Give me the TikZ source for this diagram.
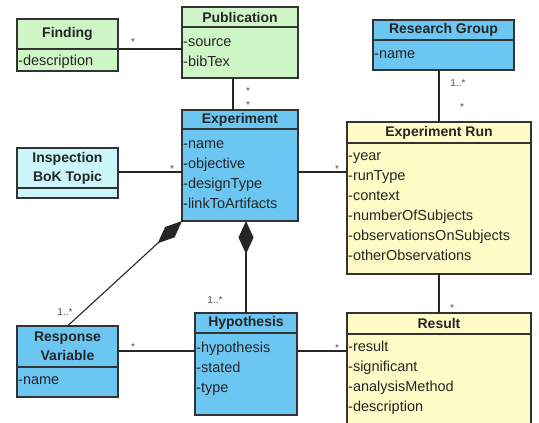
\documentclass[tikz,border=0pt]{standalone}
\usepackage{fontspec}
\setmainfont{Liberation Sans}
\usetikzlibrary{positioning, arrows.meta}

\definecolor{pubgreen}{RGB}{206,245,198}
\definecolor{classblue}{RGB}{108,198,242}
\definecolor{topiccyan}{RGB}{202,245,250}
\definecolor{runyellow}{RGB}{255,251,198}

\begin{document}
\begin{tikzpicture}[x=1pt, y=-1pt,
    head/.style={draw=black!80, line width=1.2pt, outer sep=0pt,
      anchor=north west, inner sep=0pt, align=center, text=black!85,
      font=\fontsize{14}{19}\selectfont\bfseries},
    body/.style={draw=black!80, line width=1.2pt, outer sep=0pt,
      inner sep=0pt},
    attr/.style={anchor=north west, align=left, inner xsep=1pt,
      inner ysep=5pt, text=black!85,
      font=\fontsize{14.5}{20}\selectfont},
    link/.style={line width=1.1pt, black!85},
    mult/.style={font=\fontsize{10}{12}\selectfont, inner sep=0pt,
      text=black!70}]

    \useasboundingbox (0,0) rectangle (539,423);
    \clip (0,0) rectangle (539,423);

    % Finding
    \node[head, fill=pubgreen, minimum width=101pt,
    minimum height=30pt] (findH) at (17,19) {Finding};
    \node[body, fill=pubgreen, minimum width=101pt,
    minimum height=22pt, below=0pt of findH] (findB) {};
    \node[attr, inner ysep=2.5pt] (findA) at (findB.north west)
    {\strut-description};

    % Publication
    \node[head, fill=pubgreen, minimum width=116pt,
    minimum height=20pt] (pubH) at (182,7) {Publication};
    \node[body, fill=pubgreen, minimum width=116pt,
    minimum height=51pt, below=0pt of pubH] (pubB) {};
    \node[attr] (pubA) at (pubB.north west) {\strut-source\\-bibTex};

    % Research Group
    \node[head, fill=classblue, minimum width=141pt,
    minimum height=20pt] (rgH) at (373,20) {Research Group};
    \node[body, fill=classblue, minimum width=141pt,
    minimum height=30pt, below=0pt of rgH] (rgB) {};
    \node[attr, inner ysep=4pt] (rgA) at (rgB.north west) {\strut-name};

    % Inspection BoK Topic
    \node[head, fill=topiccyan, minimum width=101pt,
    minimum height=40pt] (inspH) at (17,148) {Inspection\\BoK Topic};
    \node[body, fill=topiccyan, minimum width=101pt,
    minimum height=10pt, below=0pt of inspH] (inspB) {};

    % Experiment
    \node[head, fill=classblue, minimum width=116pt,
    minimum height=19pt] (expH) at (182,110) {Experiment};
    \node[body, fill=classblue, minimum width=116pt,
    minimum height=92pt, below=0pt of expH] (expB) {};
    \node[attr] (expA) at (expB.north west)
    {\strut-name\\-objective\\-designType\\-linkToArtifacts};

    % Experiment Run
    \node[head, fill=runyellow, minimum width=184pt,
    minimum height=21pt] (runH) at (347,122) {Experiment Run};
    \node[body, fill=runyellow, minimum width=184pt,
    minimum height=131pt, below=0pt of runH] (runB) {};
    \node[attr, inner ysep=3pt] (runA) at (runB.north west)
    {\strut-year\\-runType\\-context\\-numberOfSubjects\\-observationsOnSubjects\\-otherObservations};

    % Response Variable
    \node[head, fill=classblue, minimum width=101pt,
    minimum height=41pt] (rvH) at (17,326) {Response\\Variable};
    \node[body, fill=classblue, minimum width=101pt,
    minimum height=30pt, below=0pt of rvH] (rvB) {};
    \node[attr, inner ysep=3.5pt] (rvA) at (rvB.north west) {\strut-name};

    % Hypothesis
    \node[head, fill=classblue, minimum width=102pt,
    minimum height=20pt] (hypH) at (195,313) {Hypothesis};
    \node[body, fill=classblue, minimum width=102pt,
    minimum height=82pt, below=0pt of hypH] (hypB) {};
    \node[attr] (hypA) at (hypB.north west)
    {\strut-hypothesis\\-stated\\-type};

    % Result
    \node[head, fill=runyellow, minimum width=184pt,
    minimum height=21pt] (resH) at (347,313) {Result};
    \node[body, fill=runyellow, minimum width=184pt,
    minimum height=120pt, below=0pt of resH] (resB) {};
    \node[attr, inner ysep=3pt] (resA) at (resB.north west)
    {\strut-result\\-significant\\-analysisMethod\\-description};

    % associations
    \coordinate (findOut) at (findB.north east);
    \coordinate (inspOut) at ([yshift=-4pt]inspH.east);
    \coordinate (rvOut) at ([yshift=-4.5pt]rvH.east);

    \draw[link] (findOut) -- (findOut -| pubB.west);
    \draw[link] ([xshift=-7pt]pubB.south) -- ([xshift=-7pt]expH.north);
    \draw[link] (inspOut) -- (inspOut -| expB.west);
    \draw[link] (inspOut -| expB.east) -- (inspOut -| runB.west);
    \draw[link] (runH.north) -- (runH.north |- rgB.south);
    \draw[link] (runB.south) -- (resH.north);
    \draw[link] (rvOut) -- (rvOut -| hypB.west);
    \draw[link] (rvOut -| hypB.east) -- (rvOut -| resB.west);

    % compositions
    \draw[link, {Diamond[length=33pt, width=15pt]}-]
    (hypH.north |- expB.south) -- (hypH.north);
    \draw[link, {Diamond[length=33pt, width=14pt]}-]
    (expB.south west) -- (rvH.north);

    % multiplicities
    \node[mult] (mFind) at (133,42) {*};
    \node[mult] (mPubS) at (248,91) {*};
    \node[mult] (mExpN) at (248,105) {*};
    \node[mult] (mExpW) at (172,169) {*};
    \node[mult] (mRunW) at (337,169) {*};
    \node[mult] (mRgS) at (458,83) {1..*};
    \node[mult] (mRunN) at (462,107) {*};
    \node[mult] (mResN) at (452,308) {*};
    \node[mult] (mRvN) at (65,312) {1..*};
    \node[mult] (mHypN) at (215,300) {1..*};
    \node[mult] (mRvE) at (133,347) {*};
    \node[mult] (mResW) at (337,348) {*};
\end{tikzpicture}
\end{document}
